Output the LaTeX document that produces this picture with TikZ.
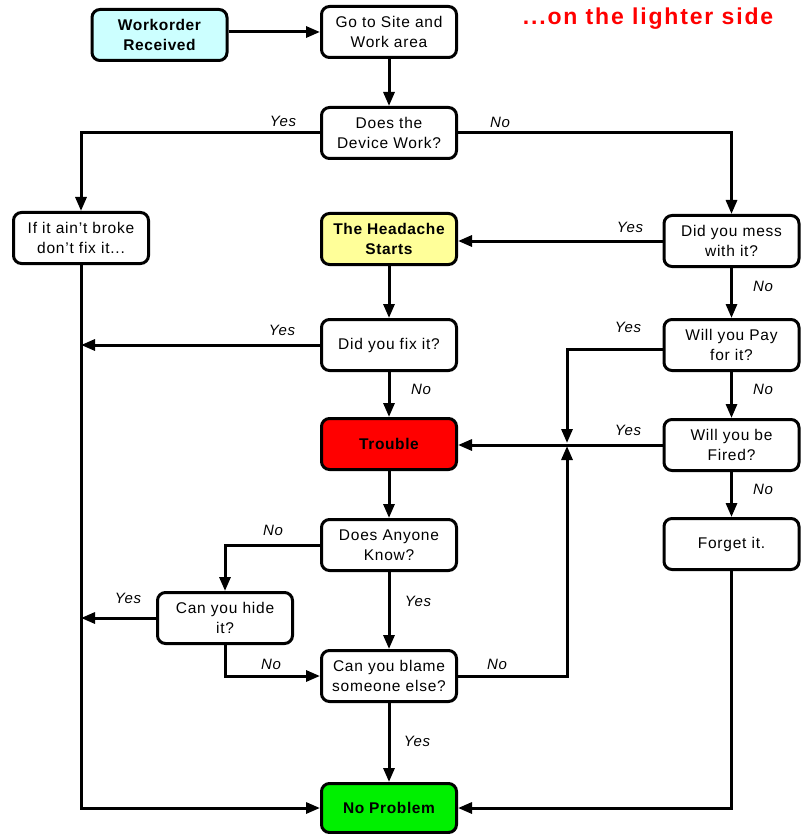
\documentclass[tikz,border=0pt]{standalone}
\usepackage{fontspec}
\setmainfont{Liberation Sans}
\usetikzlibrary{arrows.meta}
\definecolor{cyanbox}{HTML}{CCFFFF}
\definecolor{yellowbox}{HTML}{FFFF99}
\definecolor{redbox}{HTML}{FF0000}
\definecolor{greenbox}{HTML}{00F000}
\begin{document}
\begin{tikzpicture}[x=1pt,y=-1pt,
  box/.style={draw, line width=3pt, rounded corners=8pt, minimum width=135pt, minimum height=51pt,
    align=center, inner sep=1pt, font=\fontsize{15.5}{20}\selectfont\addfontfeatures{LetterSpace=5}},
  boldbox/.style={box, font=\bfseries\fontsize{15.5}{20}\selectfont\addfontfeatures{LetterSpace=4}},
  lab/.style={font=\itshape\fontsize{15}{17}\selectfont\addfontfeatures{LetterSpace=4}, inner sep=0pt},
  conn/.style={line width=3pt},
  arr/.style={conn, -{Triangle[length=14pt,width=11pt]}}]
\useasboundingbox (0,0) rectangle (800,834);

\node[boldbox, fill=cyanbox] (wr) at (159.5,35) {Workorder\\Received};
\node[box] (go) at (389,32) {Go to Site and\\Work area};
\node[box] (dw) at (389,133) {Does the\\Device Work?};
\node[box] (ib) at (81,238) {If it ain't broke\\don't fix it...};
\node[boldbox, fill=yellowbox] (hd) at (389,239) {The Headache\\Starts};
\node[box] (mess) at (731.5,241) {Did you mess\\with it?};
\node[box] (fix) at (389,345) {Did you fix it?};
\node[box] (pay) at (731.5,345) {Will you Pay\\for it?};
\node[boldbox, fill=redbox] (tr) at (389,444) {Trouble};
\node[box] (fired) at (731.5,445) {Will you be\\Fired?};
\node[box] (fg) at (731.5,544) {Forget it.};
\node[box] (any) at (389,545) {Does Anyone\\Know?};
\node[box] (hide) at (225,618) {Can you hide\\it?};
\node[box] (blame) at (389,676) {Can you blame\\someone else?};
\node[boldbox, fill=greenbox, minimum height=49pt] (np) at (389,808) {No Problem};

\node[text=red, font=\bfseries\fontsize{23}{27}\selectfont\addfontfeatures{LetterSpace=8}] (title) at (648,19) {...on the lighter side};

\coordinate (jt) at (567,443);
\coordinate (jb) at (567,446);

\draw[arr] (wr.east |- go.west) -- (go.west);
\draw[arr] (go) -- (dw);
\draw[arr] (dw.west) -| (ib.north);
\draw[arr] (dw.east) -| (mess.north);
\draw[arr] (mess.west) -- (mess.west -| hd.east);
\draw[arr] (mess) -- (pay);
\draw[arr] (hd) -- (fix);
\draw[arr] (fix.west) -- (fix.west -| ib.south);
\draw[arr] (fix) -- (tr);
\draw[arr] ([yshift=-4pt]pay.west) -| (jt);
\draw[arr] (pay) -- (fired);
\draw[arr] (fired.west) -- (fired.west -| tr.east);
\draw[arr] (fired) -- (fg);
\draw[arr] (fg.south) |- (np.east);
\draw[arr] (tr) -- (any);
\draw[arr] (any.west) -| (hide.north);
\draw[arr] (any) -- (blame);
\draw[arr] (hide.west) -- (hide.west -| ib.south);
\draw[arr] (hide.south) |- (blame.west);
\draw[arr] (blame.east) -| (jb);
\draw[arr] (blame) -- (np);
\draw[arr] (ib.south) |- (np.west);

\node[lab] (l1) at (283,121) {Yes};
\node[lab] (l2) at (500,122) {No};
\node[lab] (l3) at (630,227) {Yes};
\node[lab] (l4) at (763,286) {No};
\node[lab] (l5) at (282,330) {Yes};
\node[lab] (l6) at (421,389) {No};
\node[lab] (l7) at (628,327) {Yes};
\node[lab] (l8) at (763,389) {No};
\node[lab] (l9) at (628,430) {Yes};
\node[lab] (l10) at (763,489) {No};
\node[lab] (l11) at (273,530) {No};
\node[lab] (l12) at (418,601) {Yes};
\node[lab] (l13) at (128,598) {Yes};
\node[lab] (l14) at (271,664) {No};
\node[lab] (l15) at (497,664) {No};
\node[lab] (l16) at (417,741) {Yes};
\end{tikzpicture}
\end{document}
